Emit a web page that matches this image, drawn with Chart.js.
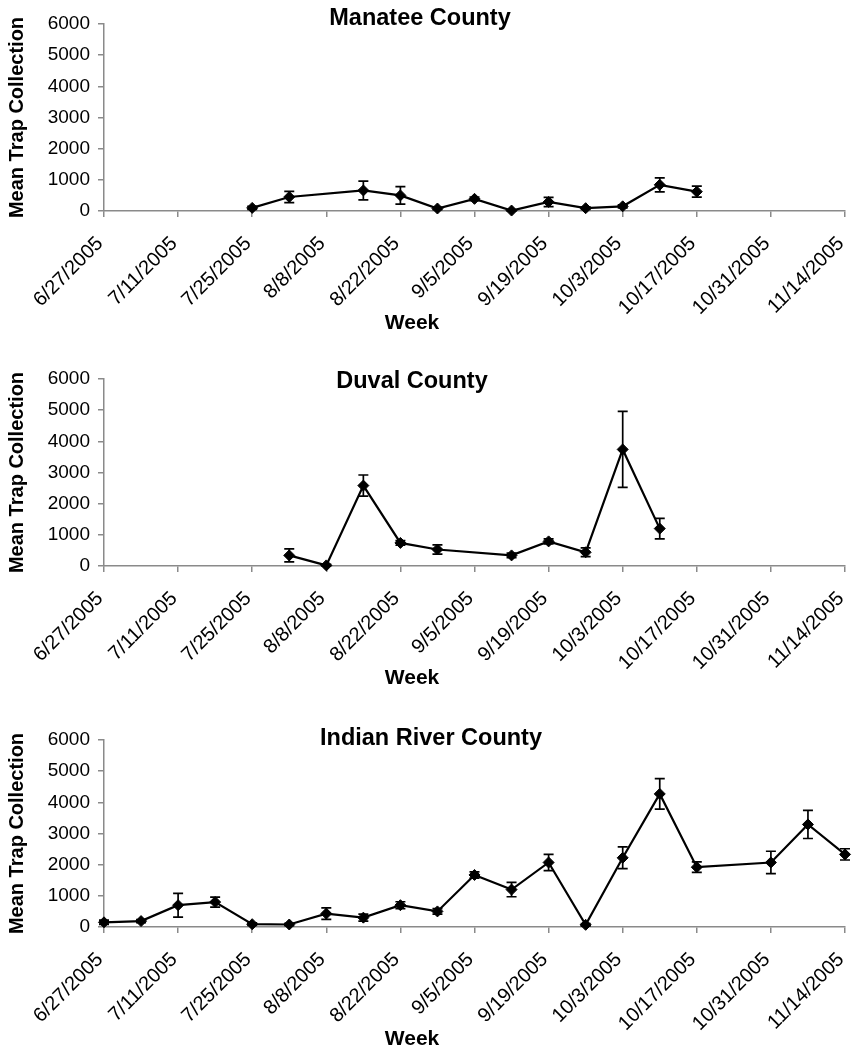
<!DOCTYPE html>
<html>
<head>
<meta charset="utf-8">
<script src="https://cdn.jsdelivr.net/npm/chart.js@4.4.1/dist/chart.umd.min.js"></script>
<style>
  html, body { margin: 0; padding: 0; background: #fff; }
  body { width: 857px; height: 1050px; position: relative; overflow: hidden; }
  .panel { position: absolute; left: 0; width: 857px; height: 334px; }
</style>
</head>
<body>
<div class="panel" style="top:0px"><canvas id="c1" width="857" height="334"></canvas></div>
<div class="panel" style="top:355px"><canvas id="c2" width="857" height="334"></canvas></div>
<div class="panel" style="top:716px"><canvas id="c3" width="857" height="334"></canvas></div>
<script>
// ---- Data ----
const tickLabels = ['6/27/2005','7/11/2005','7/25/2005','8/8/2005','8/22/2005','9/5/2005','9/19/2005','10/3/2005','10/17/2005','10/31/2005','11/14/2005'];
const yTicks = [0, 1000, 2000, 3000, 4000, 5000, 6000];

const manateeWeeks = ['7/25/2005','8/1/2005','8/15/2005','8/22/2005','8/29/2005','9/5/2005','9/12/2005','9/19/2005','9/26/2005','10/3/2005','10/10/2005','10/17/2005'];
const manateeMean  = [100, 450, 660, 500, 80, 390, 15, 290, 90, 150, 840, 620];
const manateeErr   = [50, 180, 300, 280, 40, 60, 20, 150, 40, 50, 225, 175];

const duvalWeeks = ['8/1/2005','8/8/2005','8/15/2005','8/22/2005','8/29/2005','9/12/2005','9/19/2005','9/26/2005','10/3/2005','10/10/2005'];
const duvalMean  = [340, 20, 2580, 740, 530, 340, 790, 440, 3740, 1200];
const duvalErr   = [210, 30, 340, 75, 150, 70, 80, 140, 1220, 330];

const irWeeks = ['6/27/2005','7/4/2005','7/11/2005','7/18/2005','7/25/2005','8/1/2005','8/8/2005','8/15/2005','8/22/2005','8/29/2005','9/5/2005','9/12/2005','9/19/2005','9/26/2005','10/3/2005','10/10/2005','10/17/2005','10/31/2005','11/7/2005','11/14/2005'];
const irMean  = [150, 190, 700, 800, 90, 80, 430, 300, 700, 500, 1670, 1200, 2070, 70, 2220, 4270, 1920, 2070, 3290, 2330];
const irErr   = [70, 50, 380, 160, 40, 40, 185, 110, 110, 90, 100, 230, 260, 40, 350, 490, 170, 360, 450, 180];

// ---- Helpers ----
function dayIndex(s) {
  const [m, d, y] = s.split('/').map(Number);
  return Math.round((Date.UTC(y, m - 1, d) - Date.UTC(2005, 5, 27)) / 86400000);
}
const tickDays = tickLabels.map(dayIndex);

const FONT = "'Liberation Sans', Arial, Helvetica, sans-serif";
const AXIS = '#8a8a8a';

const errorBars = {
  id: 'errorBars',
  afterDatasetsDraw(chart, args, opts) {
    const ctx = chart.ctx, x = chart.scales.x, y = chart.scales.y;
    const ds = chart.data.datasets[0];
    ctx.save();
    ctx.strokeStyle = '#000';
    ctx.lineWidth = 1.7;
    ds.data.forEach((p, i) => {
      const e = opts.errors[i];
      const px = x.getPixelForValue(p.x);
      const pt = y.getPixelForValue(p.y + e);
      const pb = y.getPixelForValue(Math.max(0, p.y - e));
      ctx.beginPath();
      ctx.moveTo(px, pt); ctx.lineTo(px, pb);
      ctx.moveTo(px - 5, pt); ctx.lineTo(px + 5, pt);
      ctx.moveTo(px - 5, pb); ctx.lineTo(px + 5, pb);
      ctx.stroke();
    });
    ctx.restore();
  }
};

const panelText = {
  id: 'panelText',
  afterDraw(chart, args, opts) {
    const ctx = chart.ctx;
    ctx.save();
    ctx.fillStyle = '#000';
    ctx.textAlign = 'center';
    ctx.textBaseline = 'alphabetic';
    ctx.font = "bold 23.5px " + FONT;
    ctx.fillText(opts.title, opts.tx, opts.ty);
    ctx.font = "bold 21px " + FONT;
    ctx.fillText('Week', opts.wx, opts.wy);
    ctx.restore();
  }
};

function makeChart(id, weeks, means, errs, title, tx, ty) {
  const pts = weeks.map((w, i) => ({ x: dayIndex(w), y: means[i] }));
  return new Chart(document.getElementById(id), {
    type: 'line',
    data: {
      datasets: [{
        data: pts,
        borderColor: '#000',
        borderWidth: 2.2,
        backgroundColor: '#000',
        pointStyle: 'rectRot',
        pointRadius: 5.5,
        pointBorderWidth: 1,
        pointBackgroundColor: '#000',
        pointBorderColor: '#000',
        tension: 0,
        clip: false
      }]
    },
    options: {
      responsive: false,
      animation: false,
      events: [],
      layout: { padding: { left: 0, right: 12, top: 24, bottom: 0 } },
      plugins: {
        legend: { display: false },
        tooltip: { enabled: false },
        errorBars: { errors: errs },
        panelText: { title: title, tx: tx, ty: ty, wx: 412, wy: 329 }
      },
      scales: {
        x: {
          type: 'linear',
          min: tickDays[0],
          max: tickDays[tickDays.length - 1],
          afterBuildTicks: s => { s.ticks = tickDays.map(v => ({ value: v })); },
          afterFit: s => { s.height = 123; s.paddingRight = 0; },
          ticks: {
            autoSkip: false,
            minRotation: 45,
            maxRotation: 45,
            padding: 15,
            labelOffset: -4,
            color: '#000',
            font: { family: FONT, size: 20 },
            callback: (v, i) => tickLabels[i]
          },
          grid: { drawOnChartArea: false, drawTicks: true, tickLength: 6, color: AXIS, lineWidth: 1.5 },
          border: { color: AXIS, width: 1.5 }
        },
        y: {
          min: 0,
          max: 6000,
          afterBuildTicks: s => { s.ticks = yTicks.map(v => ({ value: v })); },
          afterFit: s => { s.width = 104; },
          ticks: {
            padding: 8,
            color: '#000',
            font: { family: FONT, size: 19 },
            callback: v => String(v)
          },
          grid: { drawOnChartArea: false, drawTicks: true, tickLength: 6, color: AXIS, lineWidth: 1.5 },
          border: { color: AXIS, width: 1.5 },
          title: {
            display: true,
            text: 'Mean Trap Collection',
            color: '#000',
            font: { family: FONT, size: 20, weight: 'bold' },
            padding: { top: 5, bottom: 0 }
          }
        }
      }
    },
    plugins: [errorBars, panelText]
  });
}

makeChart('c1', manateeWeeks, manateeMean, manateeErr, 'Manatee County', 420, 25);
makeChart('c2', duvalWeeks, duvalMean, duvalErr, 'Duval County', 412, 33);
makeChart('c3', irWeeks, irMean, irErr, 'Indian River County', 431, 29);
</script>
</body>
</html>
